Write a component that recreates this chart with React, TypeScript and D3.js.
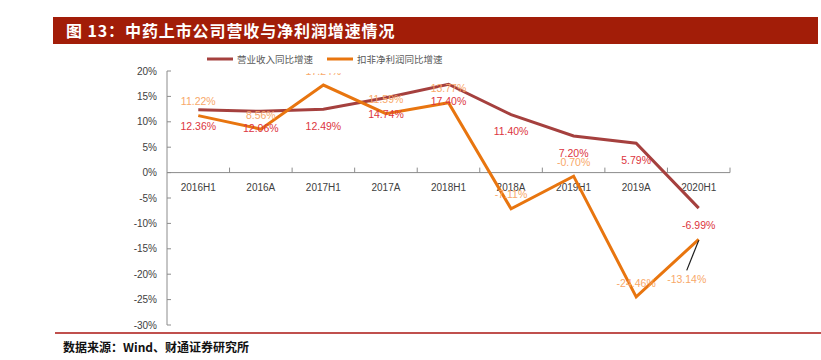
import * as d3 from 'd3';

// categories on the x axis
const periods = ['2016H1', '2016A', '2017H1', '2017A', '2018H1', '2018A', '2019H1', '2019A', '2020H1'];

// 营业收入同比增速 (%)
const revenueGrowth = [12.36, 12.06, 12.49, 14.74, 17.4, 11.4, 7.2, 5.79, -6.99];

// 扣非净利润同比增速 (%)
const profitGrowth = [11.22, 8.56, 17.24, 11.59, 13.77, -7.11, -0.7, -24.46, -13.14];

const yTicks = [20, 15, 10, 5, 0, -5, -10, -15, -20, -25, -30];

const W = 821;
const H = 360;
const REV_COLOR = '#A5403E';
const PROFIT_COLOR = '#E8750F';
const REV_LABEL = '#DC3540';
const PROFIT_LABEL = '#F8A869';
const AXIS = '#8C8C8C';
const TICK_TEXT = '#404040';
const LABEL_FONT = '"Liberation Sans", Arial, sans-serif';
const CJK_FONT = '"Noto Sans CJK SC", sans-serif';

export default function App() {
  const x = d3.scaleBand<string>().domain(periods).range([167, 730]);
  const y = d3.scaleLinear().domain([-30, 20]).range([325, 71]);
  const cx = (p: string) => (x(p) ?? 0) + x.bandwidth() / 2;

  const line = d3
    .line<number>()
    .x((_, i) => cx(periods[i]))
    .y((v) => y(v));

  const fmt = (v: number) => `${v.toFixed(2)}%`;

  return (
    <svg
      width={W}
      height={H}
      style={{ position: 'absolute', left: 0, top: 0, background: '#fff' }}
    >
      <defs>
        {/* labels above the plot area get cut off, as in the original export */}
        <clipPath id="plotClip">
          <rect x={0} y={73} width={W} height={260} />
        </clipPath>
      </defs>

      {/* title bar */}
      <rect x={53} y={17} width={765} height={27} fill="#A21D08" />
      <text
        x={66}
        y={36.5}
        fill="#fff"
        fontSize={16}
        fontWeight="bold"
        letterSpacing={0.9}
        fontFamily={CJK_FONT}
      >
        图 13：中药上市公司营收与净利润增速情况
      </text>

      {/* legend */}
      <line x1={207} x2={233} y1={59} y2={59} stroke={REV_COLOR} strokeWidth={3} />
      <text x={237} y={62.5} fontSize={9.5} fill="#595959" fontFamily={CJK_FONT}>
        营业收入同比增速
      </text>
      <line x1={327} x2={353} y1={59} y2={59} stroke={PROFIT_COLOR} strokeWidth={3} />
      <text x={357} y={62.5} fontSize={9.5} fill="#595959" fontFamily={CJK_FONT}>
        扣非净利润同比增速
      </text>

      {/* y axis */}
      <line x1={167} x2={167} y1={y(20)} y2={y(-30)} stroke={AXIS} strokeWidth={1} />
      {yTicks.map((t) => (
        <g key={t}>
          <line x1={167} x2={171} y1={y(t)} y2={y(t)} stroke={AXIS} />
          <text
            x={157}
            y={y(t)}
            dy="0.35em"
            textAnchor="end"
            fontSize={10}
            fill={TICK_TEXT}
            fontFamily={LABEL_FONT}
          >
            {`${t}%`}
          </text>
        </g>
      ))}

      {/* x axis at 0% */}
      <line x1={167} x2={730} y1={y(0)} y2={y(0)} stroke={AXIS} />
      {periods.map((p) => (
        <g key={p}>
          <line
            x1={(x(p) ?? 0) + x.bandwidth()}
            x2={(x(p) ?? 0) + x.bandwidth()}
            y1={y(0)}
            y2={y(0) - 5}
            stroke={AXIS}
          />
          <text
            x={cx(p)}
            y={y(0) + 18}
            textAnchor="middle"
            fontSize={10}
            fill={TICK_TEXT}
            fontFamily={LABEL_FONT}
          >
            {p}
          </text>
        </g>
      ))}

      {/* series lines */}
      <path d={line(revenueGrowth) ?? ''} fill="none" stroke={REV_COLOR} strokeWidth={3} strokeLinejoin="miter" />
      <path d={line(profitGrowth) ?? ''} fill="none" stroke={PROFIT_COLOR} strokeWidth={3} strokeLinejoin="miter" />

      {/* data labels */}
      <g clipPath="url(#plotClip)" fontFamily={LABEL_FONT} fontSize={10.5} textAnchor="middle">
        {revenueGrowth.map((v, i) => (
          <text key={`r${i}`} x={cx(periods[i])} y={y(v) + 17} dy="0.35em" fill={REV_LABEL}>
            {fmt(v)}
          </text>
        ))}
        {profitGrowth.map((v, i) => {
          const last = i === profitGrowth.length - 1;
          const px = cx(periods[i]);
          const py = y(v);
          if (last) {
            return (
              <g key={`p${i}`}>
                <line x1={px} y1={py + 1} x2={px - 12} y2={py + 31} stroke="#1a1a1a" strokeWidth={1.2} />
                <text x={px - 12} y={py + 40} dy="0.35em" fill={PROFIT_LABEL}>
                  {fmt(v)}
                </text>
              </g>
            );
          }
          return (
            <text key={`p${i}`} x={px} y={py - 14} dy="0.35em" fill={PROFIT_LABEL}>
              {fmt(v)}
            </text>
          );
        })}
      </g>

      {/* bottom rule and source */}
      <line x1={55} x2={W} y1={333} y2={333} stroke="#C0504D" strokeWidth={2} />
      <text x={63} y={352} fontSize={12} fontWeight="bold" fill="#111" fontFamily={CJK_FONT}>
        数据来源：Wind、财通证券研究所
      </text>
    </svg>
  );
}
